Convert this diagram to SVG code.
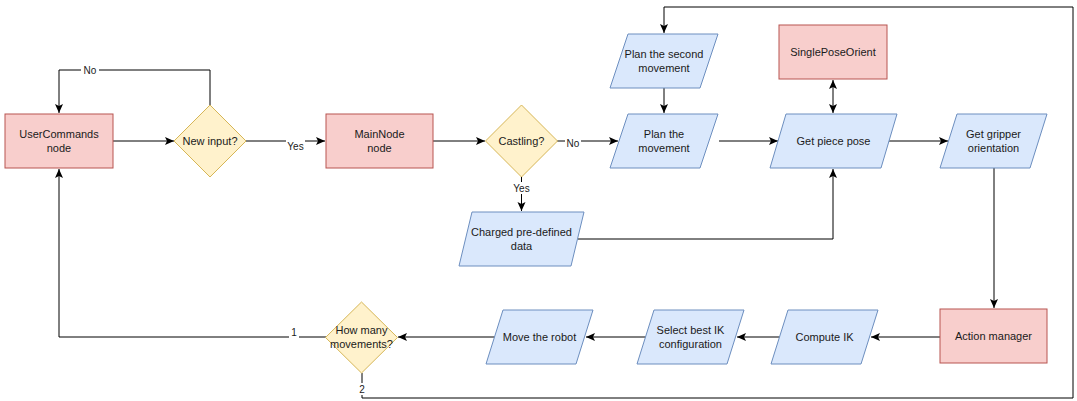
<svg xmlns="http://www.w3.org/2000/svg" width="1077" height="401" viewBox="0 0 1077 401">
<style>
.red{fill:#f8cecc;stroke:#b85450;stroke-width:1}
.yel{fill:#fff2cc;stroke:#d6b656;stroke-width:1}
.blu{fill:#dae8fc;stroke:#6c8ebf;stroke-width:1}
text{font-family:"Liberation Sans",Arial,sans-serif;font-size:11px;fill:#1a1a1a;text-anchor:middle;dominant-baseline:central}
.lbl{font-size:10px}
.c{fill:none;stroke:#000;stroke-width:1}
.a{marker-end:url(#ah)}
</style>
<defs>
<marker id="ah" markerUnits="userSpaceOnUse" markerWidth="10" markerHeight="10" viewBox="0 0 10 10" refX="9" refY="5" orient="auto">
<path d="M0,1 L9,5 L0,9 L2,5 Z" fill="#000"/>
</marker>
<marker id="as" markerUnits="userSpaceOnUse" markerWidth="10" markerHeight="10" viewBox="0 0 10 10" refX="1" refY="5" orient="auto">
<path d="M10,1 L1,5 L10,9 L8,5 Z" fill="#000"/>
</marker>
</defs>
<rect width="1077" height="401" fill="#fff"/>
<g id="connectors">
<path class="c a" d="M113,141 H174"/>
<path class="c a" d="M210,105 V70 H59 V113"/>
<path class="c a" d="M246,141 H325"/>
<path class="c a" d="M433,141 H485"/>
<path class="c a" d="M557,141 H618"/>
<path class="c a" d="M521.5,177 V211"/>
<path class="c a" d="M578,239 H833 V169"/>
<path class="c a" d="M664,88 V113"/>
<path class="c a" d="M719,141 H778"/>
<path class="c a" d="M833,113 V80" style="marker-start:url(#as)"/>
<path class="c a" d="M888,141 H948"/>
<path class="c a" d="M994,168 V308"/>
<path class="c a" d="M940,337 H871"/>
<path class="c a" d="M780,337 H737"/>
<path class="c a" d="M646,337 H586"/>
<path class="c a" d="M495,337 H398"/>
<path class="c a" d="M326,337 H59 V169"/>
<path class="c a" d="M362,373 V398 H1073 V7 H664 V33"/>
<rect x="81" y="64" width="18" height="12" fill="#fff"/>
<text class="lbl" x="90" y="70">No</text>
<rect x="286" y="140" width="19" height="12" fill="#fff"/>
<text class="lbl" x="295.5" y="146">Yes</text>
<rect x="565" y="137" width="16" height="12" fill="#fff"/>
<text class="lbl" x="573" y="143">No</text>
<rect x="512" y="182" width="19" height="12" fill="#fff"/>
<text class="lbl" x="521.5" y="188">Yes</text>
<rect x="289" y="326" width="10" height="12" fill="#fff"/>
<text class="lbl" x="294" y="332">1</text>
<rect x="357" y="383" width="10" height="12" fill="#fff"/>
<text class="lbl" x="362" y="389">2</text>
</g>
<g id="usercommands">
<rect class="red" x="5" y="114" width="108" height="54"/>
<text x="59" y="134">UserCommands</text>
<text x="59" y="148">node</text>
</g>
<g id="newinput">
<path class="yel" d="M210,105 L246,141 L210,177 L174,141 Z"/>
<text x="210" y="141">New input?</text>
</g>
<g id="mainnode">
<rect class="red" x="326" y="114" width="107" height="54"/>
<text x="379.5" y="134">MainNode</text>
<text x="379.5" y="148">node</text>
</g>
<g id="castling">
<path class="yel" d="M521.5,105 L557.5,141 L521.5,177 L485.5,141 Z"/>
<text x="521.5" y="141">Castling?</text>
</g>
<g id="charged">
<path class="blu" d="M472,212 H584 L571,266 H459 Z"/>
<text x="521.5" y="232">Charged pre-defined</text>
<text x="521.5" y="246">data</text>
</g>
<g id="plansecond">
<path class="blu" d="M628,34 H718 L700,88 H610 Z"/>
<text x="664" y="54">Plan the second</text>
<text x="664" y="68">movement</text>
</g>
<g id="planmove">
<path class="blu" d="M628,114 H718 L700,168 H610 Z"/>
<text x="664" y="134">Plan the</text>
<text x="664" y="148">movement</text>
</g>
<g id="singlepose">
<rect class="red" x="779" y="25" width="108" height="54"/>
<text x="833" y="52">SinglePoseOrient</text>
</g>
<g id="getpiece">
<path class="blu" d="M786,114 H897 L881,168 H770 Z"/>
<text x="833.5" y="141">Get piece pose</text>
</g>
<g id="getgripper">
<path class="blu" d="M957,114 H1047 L1030,168 H940 Z"/>
<text x="993.5" y="134">Get gripper</text>
<text x="993.5" y="148">orientation</text>
</g>
<g id="actionmanager">
<rect class="red" x="940" y="309" width="107" height="54"/>
<text x="993.5" y="336">Action manager</text>
</g>
<g id="computeik">
<path class="blu" d="M788,310 H878 L861,364 H771 Z"/>
<text x="824.5" y="337">Compute IK</text>
</g>
<g id="selectik">
<path class="blu" d="M654,310 H744 L727,364 H637 Z"/>
<text x="690.5" y="330">Select best IK</text>
<text x="690.5" y="344">configuration</text>
</g>
<g id="moverobot">
<path class="blu" d="M503,310 H593 L576,364 H486 Z"/>
<text x="539.5" y="337">Move the robot</text>
</g>
<g id="howmany">
<path class="yel" d="M361.5,302 L397.5,337.5 L361.5,373 L325.5,337.5 Z"/>
<text x="361.5" y="330">How many</text>
<text x="361.5" y="344">movements?</text>
</g>
</svg>
